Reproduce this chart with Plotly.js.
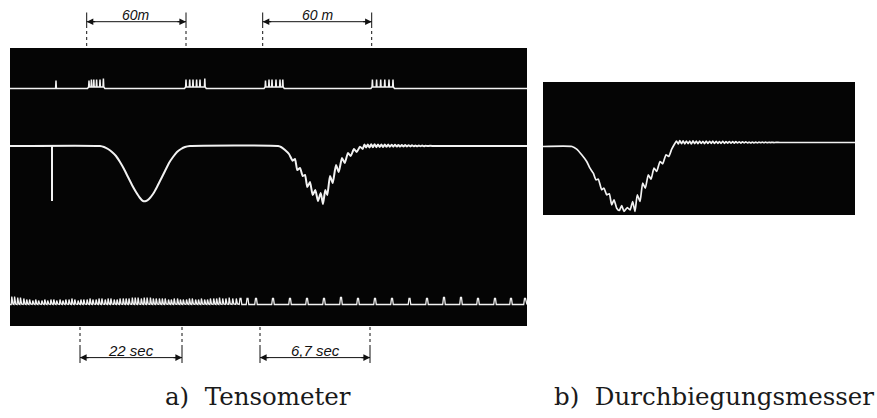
<!DOCTYPE html>
<html>
<head>
<meta charset="utf-8">
<script src="https://cdn.plot.ly/plotly-3.0.1.min.js"></script>
<style>html,body{margin:0;padding:0;background:#fff}#chart{width:877px;height:418px}</style>
</head>
<body>
<div id="chart"></div>
<script>
// ---- Tensometer main trace (film position, deflection; up = positive)
const mainX = [10,100,104,108,112,116,120,124,128,132,136,140,143,146,149,153,157,161,165,169,173,177,181,185,190,
  278,281,285,289,292.7,295,297.3,300,302.7,305,307.3,310,312.7,315.3,318,320.7,323,325.3,327.3,330,332.7,336,338.7,342,344.7,348,350.7,354,356.7,360,362.7,
  364.4,366.1,367.8,369.5,371.2,372.9,374.6,376.3,378,379.7,381.4,383.1,384.8,386.5,388.2,389.9,391.6,393.3,395,396.7,398.4,400.1,401.8,403.5,405.2,406.9,408.6,410.3,412,413.7,415.4,417.1,418.8,420.5,422.2,423.9,425.6,427.3,430,435,527];
const mainY = [0,0,-1,-3,-6,-10,-16,-23,-31,-39,-46,-52,-55,-55,-53,-48,-41,-33,-25,-17,-11,-6,-3,-1,0,
  0,-1,-4,-8,-14.7,-13,-24,-22,-30,-29,-41,-36,-49,-44,-55,-47,-58,-44,-49,-30,-37,-19,-26,-12,-17,-7,-10,-3,-6,-0.7,-3,
  1.5,-1.5,1.5,-1.5,1.8,-1.2,1.8,-1.2,1.6,-1,1.6,-1,1.5,-0.8,1.4,-0.8,1.3,-0.7,1.2,-0.6,1.1,-0.6,1,-0.5,0.9,-0.4,0.8,-0.4,0.7,-0.3,0.6,-0.3,0.5,-0.2,0.4,-0.2,0.3,-0.1,0.2,0,0];
// calibration mark on the main trace
const calibX = [52], calibY = [-55];

// ---- Durchbiegungsmesser trace
const rightX = [543,572,576.7,581.7,586.7,590,593.3,596,598.3,601.7,604,606.7,609.3,611.7,614,616.7,619.3,621.7,624,627.3,630,632.7,635,637.3,640,642.7,645.3,648.3,651,654,656.7,660,662.7,666,668.7,671.7,675,
  676.5,678.2,679.8,681.5,683.1,684.8,686.4,688.1,689.7,691.4,693,694.7,696.3,698,699.6,701.3,702.9,704.6,706.2,707.9,709.5,711.2,712.8,714.5,716.1,717.8,719.4,721.1,722.7,724.4,726,727.7,729.3,731,732.6,734.3,735.9,737.6,739.2,740.9,742.5,744.2,745.8,747.5,749.1,750.8,752.4,754.1,755.7,757.4,759,760.7,762.3,764,765.6,767.3,768.9,770.6,772.2,773.9,776,780,855];
const rightY = [0,0,-2.7,-8.3,-15,-21.7,-26.7,-33.3,-32.7,-43.3,-41.7,-48.3,-47.3,-58.3,-53.3,-61.7,-64,-59,-65,-61,-63.5,-55,-65,-48.3,-55,-36.7,-41.7,-28.3,-32.7,-21.7,-25,-15,-17.3,-8.3,-10,-2.7,3.3,
  5.5,2.5,5.8,2.8,5.6,2.6,5.5,2.8,5.4,2.6,5.6,2.9,5.3,2.8,5.5,3,5.2,2.9,5.4,3,5.2,3.1,5.3,3,5.2,3.2,5,3.1,5.1,3.2,4.9,3.3,5,3.3,4.8,3.3,4.9,3.5,4.7,3.4,4.7,3.5,4.6,3.6,4.5,3.6,4.5,3.7,4.4,3.7,4.4,3.8,4.3,3.8,4.3,3.8,4.2,3.9,4.2,3.9,4.1,4,4];

// ---- distance marker spikes (top trace)
const markerT = [56,89,91.4,93.8,96.6,100,103.4,186,189.7,193,196.6,200,204.8,265.5,269,272,276,280,282.8,372.4,376.6,380.7,384.8,389,393];
const markerH = [8,8,9,9,9,9,10,9,9,9,9,9,10,8,9,9,9,9,9,9,9,9,9,9,9];

// ---- timer trace (bottom)
const denseT = [11.5,14.3,17.4,20.2,23.5,26.4,29.3,32.5,35.4,38.3,41.6,44.5,47.4,50.6,53.5,56.4,59.7,62.6,65.5,68.7,71.6,74.5,77.8,80.6,83.5,86.8,89.7,92.6,95.8,98.7,101.6,104.9,107.8,110.6,113.9,116.8,119.7,122.9,125.8,128.7,132.0,134.9,137.8,141.0,143.9,146.8,150.1,153.0,155.9,159.1,162.0,164.9,168.2,171.0,173.9,177.2,180.1,183.0,186.2,189.1,192.0,195.3,198.2,201.1,204.3,207.2,210.1,213.4,216.3,219.2,222.4,225.6,228.9,232.4,236.0];
const denseH = [8,8,7,7,6,5,5,4,5,4,4,5,4,5,5,4,5,4,5,5,6,5,4,5,5,5,6,5,5,6,6,5,6,6,5,5,6,6,6,6,7,7,7,6,7,7,7,6,6,6,6,6,5,5,6,6,5,5,5,6,6,5,5,6,5,5,6,6,6,7,6,6,7,6,6];
const pulseT = [240.5,247.5,256,273,290,307,324,341,358,375,392,409.5,427,444,461,478,495,511,525];
const pulseH = [6,6,6,6,6,6,6,7,6,6,6,6,6,7,7,6,6,6,6];

// ---- dimension annotations
const distStart = [86.7,262.7], distEnd = [186,371.7], distLabel = ['60m','60 m'];
const timeStart = [80,260], timeEnd = [182,370], timeLabel = ['22 sec','6,7 sec'];
const captions = ['a)\u00a0 Tensometer','b)\u00a0 Durchbiegungsmesser'];

// build marker trace
const mx=[10], my=[0];
markerT.forEach((t,i)=>{
  const prevClose = i>0 && t-markerT[i-1]<6;
  const nextClose = i<markerT.length-1 && markerT[i+1]-t<6;
  const b = (prevClose||nextClose)?1.5:0;
  if(!prevClose){mx.push(t-1.5); my.push(0);}
  mx.push(t-0.4,t,t+0.4); my.push(b,markerH[i],b);
  if(!nextClose){mx.push(t+1.5); my.push(0);}
});
mx.push(527); my.push(0);

// build timer trace
const tx=[10], ty=[0];
denseT.forEach((t,i)=>{ tx.push(t-0.3,t+0.3,t+1.4); ty.push(0,denseH[i],0.5); });
pulseT.forEach((t,i)=>{ tx.push(t-1.3,t-0.5,t+0.5,t+1.3); ty.push(0,pulseH[i],pulseH[i],0); });
tx.push(527); ty.push(0);

// calibration mark segments
const cx=[], cy=[];
calibX.forEach((x,i)=>{ cx.push(x,x,null); cy.push(0,calibY[i],null); });

const W=877,H=418;
const py = p => 1 - p/H;
const ink = '#111';
const shapes = [], annotations = [];

function dimension(x0,x1,label,lineY,barTop,barBot,dashTop,dashBot,labelY,fs){
  [x0,x1].forEach(x=>{
    shapes.push({type:'line',xref:'x',yref:'paper',x0:x,x1:x,y0:py(barTop),y1:py(barBot),line:{color:ink,width:1}});
    shapes.push({type:'line',xref:'x',yref:'paper',x0:x,x1:x,y0:py(dashTop),y1:py(dashBot),line:{color:ink,width:1,dash:'dot'}});
  });
  shapes.push({type:'line',xref:'x',yref:'paper',x0:x0,x1:x1,y0:py(lineY),y1:py(lineY),line:{color:ink,width:1}});
  annotations.push({xref:'x',yref:'paper',x:x0,y:py(lineY),ax:10,ay:0,text:'',showarrow:true,arrowhead:2,arrowsize:1.1,arrowwidth:1.2,arrowcolor:ink});
  annotations.push({xref:'x',yref:'paper',x:x1,y:py(lineY),ax:-10,ay:0,text:'',showarrow:true,arrowhead:2,arrowsize:1.1,arrowwidth:1.2,arrowcolor:ink});
  annotations.push({xref:'x',yref:'paper',x:(x0+x1)/2,y:py(labelY),text:'<i>'+label+'</i>',showarrow:false,xanchor:'center',yanchor:'middle',
    font:{family:'Liberation Sans, Arial, sans-serif',size:fs,color:ink}});
}
distStart.forEach((s,i)=>dimension(s,distEnd[i],distLabel[i],21.7,12.5,25,25,48,15,14));
timeStart.forEach((s,i)=>dimension(s,timeEnd[i],timeLabel[i],357.6,347,363,327,347,350,15));

annotations.push({xref:'paper',yref:'paper',x:163/W,y:py(396),text:captions[0],showarrow:false,xanchor:'left',yanchor:'middle',
  font:{family:'DejaVu Serif, serif',size:24.5,color:'#1a1a1a'}});
annotations.push({xref:'paper',yref:'paper',x:552/W,y:py(396),text:captions[1],showarrow:false,xanchor:'left',yanchor:'middle',
  font:{family:'DejaVu Serif, serif',size:24.5,color:'#1a1a1a'}});

const ax = (extra)=>Object.assign({showgrid:false,zeroline:false,showticklabels:false,ticks:'',showline:false,fixedrange:true},extra);
const line = (w,s)=>({color:'#f2f2f2',width:w,shape:s||'linear',smoothing:0.5});

const data = [
  {x:mainX,y:mainY,xaxis:'x',yaxis:'y',mode:'lines',line:line(2,'spline'),hoverinfo:'skip'},
  {x:cx,y:cy,xaxis:'x',yaxis:'y',mode:'lines',line:line(2),hoverinfo:'skip'},
  {x:mx,y:my,xaxis:'x',yaxis:'y3',mode:'lines',line:line(1.5),hoverinfo:'skip'},
  {x:tx,y:ty,xaxis:'x',yaxis:'y4',mode:'lines',line:line(1.3),hoverinfo:'skip'},
  {x:rightX,y:rightY,xaxis:'x2',yaxis:'y2',mode:'lines',line:line(1.7,'spline'),hoverinfo:'skip'}
];

const layout = {
  width:W,height:H,margin:{l:0,r:0,t:0,b:0},
  paper_bgcolor:'#ffffff',plot_bgcolor:'#050505',showlegend:false,
  xaxis:ax({domain:[10/W,527/W],range:[10,527],anchor:'y'}),
  yaxis:ax({domain:[py(326),py(48)],range:[-180,98],anchor:'x'}),
  yaxis3:ax({overlaying:'y',range:[-237.5,40.5],anchor:'x'}),
  yaxis4:ax({overlaying:'y',range:[-21.5,256.5],anchor:'x'}),
  xaxis2:ax({domain:[543/W,855/W],range:[543,855],anchor:'y2'}),
  yaxis2:ax({domain:[py(215),py(82)],range:[-68.5,64.5],anchor:'x2'}),
  shapes:shapes,annotations:annotations
};

Plotly.newPlot('chart',data,layout,{staticPlot:true,displayModeBar:false});
</script>
</body>
</html>
